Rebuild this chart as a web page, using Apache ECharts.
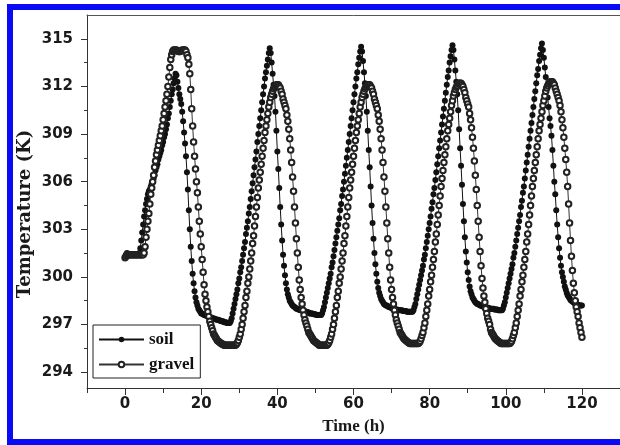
<!DOCTYPE html>
<html><head><meta charset="utf-8">
<script src="https://cdn.jsdelivr.net/npm/echarts@6/dist/echarts.min.js"></script>
<style>
html,body{margin:0;padding:0;background:#fff;}
#chart{position:absolute;left:0;top:0;width:620px;height:445px;}
#frame{position:absolute;left:7px;top:4px;width:613px;height:441px;border:6px solid #0a0af5;border-right:none;box-sizing:border-box;pointer-events:none;}
</style></head>
<body><div id="chart"></div><div id="frame"></div>
<script>
// sampling step of the records (hours)
const timeStep = 0.25;

const soilDay1 = [
301.2,301.4,301.5,301.4,301.4,301.4,301.4,301.4,301.4,301.4,301.4,301.4,
301.4,301.4,301.4,301.5,301.8,302.3,302.8,303.3,303.8,304.2,304.6,304.9,
305.2,305.4,305.5,305.7,305.9,306.0,306.2,306.4,306.7,306.9,307.1,307.4,
307.6,307.8,308.0,308.3,308.5,308.8,309.0,309.3,309.6,310.0,310.3,310.7,
311.1,311.5,311.8,312.2,312.5,312.8,312.7,312.3,311.9,311.5,311.2,310.9,
310.4,309.8,309.1,308.4,307.6,306.6,305.5,304.2,303.0,301.9,301.0,300.2,
299.6,299.1,298.7,298.4,298.2,298.0,297.9,297.8,297.7,297.7,297.65,297.6,
297.6,297.55,297.55,297.5,297.5,297.45,297.45,297.4,297.4,297.4,297.35,297.35];
const soilDay2 = [
297.3,297.3,297.3,297.25,297.25,297.2,297.2,297.2,297.15,297.15,297.15,297.1,
297.1,297.1,297.1,297.2,297.4,297.7,298.0,298.3,298.6,298.9,299.2,299.6,
299.9,300.3,300.6,301.0,301.4,301.8,302.2,302.7,303.1,303.5,304.0,304.4,
304.9,305.4,305.9,306.4,306.9,307.4,307.9,308.5,309.0,309.5,310.0,310.5,
311.0,311.5,312.0,312.5,312.9,313.3,313.7,314.1,314.4,314.1,313.5,312.8,
312.1,311.4,310.4,309.2,307.9,306.8,305.6,304.4,303.3,302.3,301.4,300.7,
300.1,299.6,299.2,298.9,298.7,298.5,298.4,298.3,298.2,298.15,298.1,298.05,
298.0,298.0,297.95,297.95,297.9,297.9,297.9,297.85,297.85,297.8,297.8,297.8];
const soilDay3 = [
297.75,297.75,297.7,297.7,297.7,297.7,297.65,297.65,297.65,297.6,297.6,297.6,
297.6,297.6,297.6,297.7,297.9,298.1,298.4,298.7,299.0,299.3,299.6,299.9,
300.2,300.6,300.9,301.3,301.7,302.1,302.5,302.9,303.3,303.7,304.2,304.6,
305.1,305.5,306.0,306.5,307.0,307.5,308.0,308.5,309.0,309.5,310.0,310.5,
311.0,311.5,312.0,312.5,312.9,313.4,313.8,314.2,314.5,314.2,313.6,312.9,
312.2,311.4,310.4,309.2,308.0,306.9,305.7,304.5,303.4,302.4,301.5,300.8,
300.2,299.7,299.3,299.0,298.8,298.6,298.5,298.4,298.3,298.25,298.2,298.2,
298.15,298.1,298.1,298.05,298.05,298.0,298.0,298.0,297.95,297.95,297.95,297.9];
const soilDay4 = [
297.9,297.9,297.9,297.9,297.85,297.85,297.85,297.85,297.8,297.8,297.8,297.8,
297.8,297.8,297.8,297.9,298.1,298.3,298.6,298.9,299.2,299.5,299.8,300.1,
300.4,300.7,301.1,301.4,301.8,302.2,302.6,303.0,303.4,303.8,304.3,304.7,
305.2,305.6,306.1,306.6,307.1,307.6,308.1,308.6,309.1,309.6,310.1,310.6,
311.1,311.6,312.1,312.6,313.0,313.5,313.9,314.3,314.6,314.3,313.7,313.0,
312.3,311.5,310.5,309.3,308.1,307.0,305.8,304.6,303.5,302.5,301.6,300.9,
300.3,299.8,299.4,299.1,298.9,298.7,298.6,298.5,298.4,298.35,298.3,298.3,
298.25,298.2,298.2,298.15,298.15,298.1,298.1,298.1,298.05,298.05,298.05,298.0];
const soilDay5 = [
298.0,298.0,298.0,298.0,297.95,297.95,297.95,297.95,297.9,297.9,297.9,297.9,
297.9,298.0,298.2,298.4,298.7,299.0,299.3,299.6,299.9,300.2,300.5,300.8,
301.2,301.5,301.9,302.3,302.7,303.1,303.5,303.9,304.4,304.8,305.3,305.7,
306.2,306.7,307.2,307.7,308.2,308.7,309.2,309.7,310.2,310.7,311.2,311.7,
312.2,312.7,313.1,313.6,314.0,314.4,314.7,314.3,313.8,313.2,312.6,311.9,
311.3,310.7,310.0,309.5,308.9,308.0,307.0,306.0,305.2,304.2,303.3,302.5,
301.8,301.2,300.7,300.3,300.0,299.7,299.4,299.2,299.0,298.85,298.75,298.65,
298.55,298.5,298.45,298.4,298.35,298.3,298.3,298.25,298.25,298.2,298.2,298.2,
298.2];

const gravelDay1 = [
301.2,301.3,301.4,301.4,301.4,301.4,301.4,301.4,301.4,301.4,301.4,301.4,
301.4,301.4,301.4,301.4,301.4,301.4,301.4,301.4,301.5,301.9,302.5,303.0,
303.5,304.0,304.6,305.2,305.6,306.0,306.4,306.9,307.3,307.7,308.0,308.3,
308.6,308.9,309.2,309.5,309.9,310.3,310.7,311.1,311.5,312.0,312.6,313.2,
313.7,314.0,314.2,314.3,314.3,314.3,314.3,314.25,314.2,314.2,314.2,314.25,
314.3,314.3,314.3,314.3,314.2,314.0,313.8,313.4,312.8,311.8,310.6,309.5,
308.5,307.6,306.8,306.0,305.3,304.4,303.5,302.7,301.9,301.1,300.3,299.5,
298.9,298.5,298.1,297.8,297.5,297.2,297.0,296.8,296.6,296.4,296.3,296.2];
const gravelDay2 = [
296.1,296.0,295.95,295.9,295.85,295.8,295.75,295.75,295.7,295.7,295.7,295.7,
295.7,295.7,295.7,295.7,295.7,295.7,295.7,295.7,295.7,295.75,295.85,296.0,
296.2,296.4,296.7,297.0,297.4,297.8,298.2,298.7,299.1,299.6,300.0,300.5,
301.0,301.5,302.1,302.6,303.2,303.8,304.4,305.0,305.6,306.1,306.6,307.1,
307.6,308.1,308.6,309.1,309.5,309.9,310.3,310.7,311.0,311.3,311.5,311.7,
311.85,311.95,312.05,312.1,312.1,312.1,312.0,311.9,311.7,311.5,311.2,311.0,
310.8,310.6,310.2,309.8,309.3,308.7,308.0,307.2,306.3,305.4,304.4,303.4,
302.4,301.5,300.6,299.8,299.2,298.7,298.3,297.9,297.6,297.3,297.1,296.9];
const gravelDay3 = [
296.7,296.5,296.4,296.3,296.2,296.1,296.0,295.95,295.9,295.85,295.8,295.75,
295.7,295.7,295.7,295.7,295.7,295.7,295.7,295.7,295.7,295.75,295.85,296.0,
296.2,296.4,296.7,297.0,297.4,297.8,298.2,298.7,299.1,299.6,300.0,300.5,
301.0,301.5,302.1,302.6,303.2,303.8,304.4,305.0,305.6,306.1,306.6,307.1,
307.6,308.1,308.6,309.1,309.5,309.9,310.3,310.7,311.0,311.3,311.5,311.7,
311.85,311.95,312.05,312.1,312.1,312.1,312.0,311.9,311.7,311.5,311.2,311.0,
310.8,310.6,310.2,309.8,309.3,308.7,308.0,307.2,306.3,305.4,304.4,303.4,
302.4,301.5,300.6,299.8,299.2,298.7,298.3,297.9,297.6,297.3,297.1,296.9];
const gravelDay4 = [
296.7,296.5,296.4,296.3,296.2,296.1,296.05,296.0,295.95,295.9,295.85,295.8,
295.8,295.8,295.8,295.8,295.8,295.8,295.8,295.8,295.8,295.85,295.95,296.1,
296.3,296.5,296.8,297.1,297.5,297.9,298.3,298.8,299.2,299.7,300.1,300.6,
301.1,301.6,302.2,302.7,303.3,303.9,304.5,305.1,305.7,306.2,306.7,307.2,
307.7,308.2,308.7,309.2,309.6,310.0,310.4,310.8,311.1,311.4,311.6,311.8,
311.95,312.05,312.15,312.2,312.2,312.2,312.1,312.0,311.8,311.6,311.3,311.1,
310.9,310.7,310.3,309.9,309.4,308.8,308.1,307.3,306.4,305.5,304.5,303.5,
302.5,301.6,300.7,299.9,299.3,298.8,298.4,298.0,297.7,297.4,297.2,297.0];
const gravelDay5 = [
296.7,296.5,296.4,296.3,296.2,296.1,296.05,296.0,295.95,295.9,295.85,295.8,
295.8,295.8,295.8,295.8,295.8,295.8,295.8,295.8,295.8,295.85,295.95,296.1,
296.3,296.5,296.8,297.1,297.5,297.9,298.3,298.8,299.2,299.7,300.1,300.6,
301.1,301.6,302.2,302.7,303.3,303.9,304.5,305.1,305.7,306.2,306.7,307.2,
307.7,308.2,308.7,309.2,309.6,310.0,310.4,310.8,311.1,311.4,311.7,311.9,
312.05,312.15,312.25,312.3,312.3,312.3,312.2,312.1,311.9,311.7,311.5,311.3,
311.1,310.8,310.4,309.9,309.4,308.8,308.1,307.4,306.6,305.7,304.6,303.4,
302.3,301.3,300.4,299.6,299.0,298.5,298.1,297.8,297.5,297.1,296.8,296.5,
296.2];

const seriesNames = ['soil', 'gravel'];
const xTickValues = [0, 20, 40, 60, 80, 100, 120];
const xMinorTickValues = [-10, 10, 30, 50, 70, 90, 110, 130];
const yTickValues = [294, 297, 300, 303, 306, 309, 312, 315];
const yMinorTickValues = [295.5, 298.5, 301.5, 304.5, 307.5, 310.5, 313.5];
const xTitle = 'Time (h)';
const yTitle = 'Temperature (K)';

const soil = [].concat(soilDay1, soilDay2, soilDay3, soilDay4, soilDay5);
const gravel = [].concat(gravelDay1, gravelDay2, gravelDay3, gravelDay4, gravelDay5);
const toPairs = vals => vals.map((v, i) => [i * timeStep, v]);

const axisColor = '#333';
const labelFont = {fontFamily: 'DejaVu Sans', fontWeight: 'bold', fontSize: 15, color: '#1a1a1a'};
const titleFont = {fontFamily: 'Liberation Serif', fontWeight: 'bold', fontSize: 17, color: '#1a1a1a'};

const chart = echarts.init(document.getElementById('chart'), null, {renderer: 'canvas'});
chart.setOption({
  animation: false,
  backgroundColor: '#fff',
  grid: {left: 87, top: 15, right: 0, bottom: 57, containLabel: false},
  legend: {
    orient: 'vertical', left: 93, top: 325,
    data: seriesNames,
    itemWidth: 45, itemHeight: 7, itemGap: 8,
    padding: [6, 6, 5, 5],
    borderColor: '#222', borderWidth: 1,
    selectedMode: false,
    textStyle: {fontFamily: 'Liberation Serif', fontWeight: 'bold', fontSize: 17, color: '#111'}
  },
  graphic: [{
    type: 'text', x: 25, y: 214, rotation: Math.PI / 2, silent: true,
    style: {text: yTitle, font: 'bold 18px "DejaVu Serif"', fill: '#1a1a1a', align: 'center', verticalAlign: 'middle'}
  }],
  xAxis: [
    {
      type: 'value', min: -10, max: 130, position: 'bottom',
      axisLine: {onZero: false, lineStyle: {color: axisColor, width: 1}},
      axisTick: {customValues: xTickValues, length: 7, lineStyle: {color: axisColor}},
      axisLabel: Object.assign({customValues: xTickValues, margin: 9}, labelFont),
      splitLine: {show: false},
      name: xTitle, nameLocation: 'middle', nameGap: 30, nameTextStyle: titleFont
    },
    {
      type: 'value', min: -10, max: 130, position: 'bottom',
      axisLine: {show: false, onZero: false},
      axisTick: {customValues: xMinorTickValues, length: 5, lineStyle: {color: axisColor}},
      axisLabel: {show: false}, splitLine: {show: false}
    },
    {
      type: 'value', min: -10, max: 130, position: 'top',
      axisLine: {onZero: false, lineStyle: {color: '#555', width: 1}},
      axisTick: {show: false}, axisLabel: {show: false}, splitLine: {show: false}
    }
  ],
  yAxis: [
    {
      type: 'value', min: 293, max: 316.5, position: 'left',
      axisLine: {show: true, onZero: false, lineStyle: {color: axisColor, width: 1}},
      axisTick: {show: true, customValues: yTickValues, length: 6, lineStyle: {color: axisColor}},
      axisLabel: Object.assign({customValues: yTickValues, margin: 14}, labelFont),
      splitLine: {show: false}
    },
    {
      type: 'value', min: 293, max: 316.5, position: 'left',
      axisLine: {show: false, onZero: false},
      axisTick: {show: true, customValues: yMinorTickValues, length: 3, lineStyle: {color: axisColor}},
      axisLabel: {show: false}, splitLine: {show: false}
    }
  ],
  series: [
    {
      name: seriesNames[0], type: 'line', data: toPairs(soil),
      symbol: 'circle', symbolSize: 6, showSymbol: true, showAllSymbol: true,
      itemStyle: {color: '#111'}, lineStyle: {color: '#111', width: 1},
      emphasis: {disabled: true}
    },
    {
      name: seriesNames[1], type: 'line', data: toPairs(gravel),
      symbol: 'emptyCircle', symbolSize: 5.5, showSymbol: true, showAllSymbol: true,
      itemStyle: {color: '#222', borderWidth: 1}, lineStyle: {color: '#333', width: 1},
      emphasis: {disabled: true}
    }
  ]
});
</script>
</body></html>
